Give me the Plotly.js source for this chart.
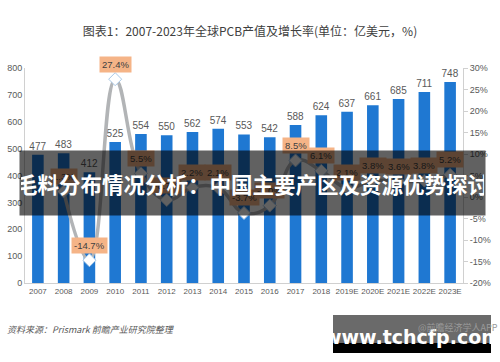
<!DOCTYPE html>
<html>
<head>
<meta charset="utf-8">
<script src="https://cdn.plot.ly/plotly-3.0.1.min.js"></script>
<style>html,body{margin:0;padding:0;background:#fff;}#chart{width:500px;height:362px;}</style>
</head>
<body>
<div id="chart"></div>
<script>
var years = ['2007','2008','2009','2010','2011','2012','2013','2014','2015','2016','2017','2018','2019E','2020E','2021E','2022E','2023E'];
var output = [477,483,412,525,554,550,562,574,553,542,588,624,637,661,685,711,748];
var growth = [null,1.3,-14.7,27.4,5.5,-0.7,2.2,2.1,-3.7,-2.0,8.5,6.1,2.1,3.8,3.6,3.8,5.2];
var growthLabels = ['', '1.3%','-14.7%','27.4%','5.5%','-0.7%','2.2%','2.1%','-3.7%','-2.0%','8.5%','6.1%','2.1%','3.8%','3.6%','3.8%','5.2%'];
var leftTicks = [0,100,200,300,400,500,600,700,800];
var rightTicks = [-20,-15,-10,-5,0,5,10,15,20,25,30];
var rightTickText = ['-20%','-15%','-10%','-5%','0%','5%','10%','15%','20%','25%','30%'];

var titleText = '图表1：2007-2023年全球PCB产值及增长率(单位：亿美元，%)';
var bannerText = '毛料分布情况分析：中国主要产区及资源优势探讨';
var sourceText = '资料来源：Prismark 前瞻产业研究院整理';
var siteText = 'www.tchcfp.com';
var appText = '@前瞻经济学人APP';

var W = 500, H = 362, L = 25, R = 37, T = 68, B = 79;
var pw = W - L - R, ph = H - T - B;
function px(x){ return (x - L) / pw; }
function py(y){ return (H - B - y) / ph; }

var CJK = '"Noto Sans CJK SC", "Liberation Sans", sans-serif';
var NUM = '"Liberation Sans", "Noto Sans CJK SC", sans-serif';

var idx = years.map(function(_, i){ return i; });

var bars = {
  type: 'bar', x: idx, y: output, yaxis: 'y', xaxis: 'x',
  marker: {color: '#1f78d2'},
  text: output.map(String), textposition: 'outside', constraintext: 'none',
  textfont: {family: NUM, size: 10, color: '#595959'},
  cliponaxis: false, hoverinfo: 'none'
};
var line = {
  type: 'scatter', mode: 'lines+markers', x: idx, y: growth, yaxis: 'y2', xaxis: 'x',
  line: {color: '#b2b4b6', width: 3.5, shape: 'spline', smoothing: 1.2},
  marker: {symbol: 'diamond', size: 10, color: '#ffffff', line: {color: '#a9c8e6', width: 1}},
  connectgaps: false, cliponaxis: false, hoverinfo: 'none'
};

var annotations = [];
for (var i = 0; i < years.length; i++) {
  if (growth[i] === null) continue;
  annotations.push({
    x: idx[i], y: growth[i], xref: 'x', yref: 'y2', yshift: 15,
    text: growthLabels[i], showarrow: false,
    bgcolor: '#f5b487', borderpad: 2,
    font: {family: NUM, size: 9.5, color: '#404040'}
  });
}
annotations.push({
  xref: 'paper', yref: 'paper', x: px(19), y: py(150), xanchor: 'left', yanchor: 'top',
  width: 463, height: 62, text: '<b>' + bannerText + '</b>', showarrow: false,
  bgcolor: 'rgba(0,0,0,0.62)', align: 'center', valign: 'middle',
  font: {family: CJK, size: 21.5, color: '#ffffff'}
});
annotations.push({
  xref: 'paper', yref: 'paper', x: px(5), y: py(329), xanchor: 'left', yanchor: 'middle',
  text: sourceText, showarrow: false,
  font: {family: CJK, size: 9, color: '#595959', style: 'italic'}
});
annotations.push({
  xref: 'paper', yref: 'paper', x: px(412), y: py(337), xanchor: 'center', yanchor: 'middle',
  text: '<b>' + siteText + '</b>', showarrow: false,
  font: {family: '"DejaVu Sans", sans-serif', size: 19, color: '#ffffff'}
});
annotations.push({
  xref: 'paper', yref: 'paper', x: px(500), y: py(327), xanchor: 'right', yanchor: 'middle',
  text: appText, showarrow: false,
  font: {family: CJK, size: 9, color: '#9a9a9a'}
});

var shapes = [
  {type: 'rect', xref: 'paper', yref: 'paper', layer: 'above', x0: px(333), x1: px(491), y0: py(343), y1: py(315),
   fillcolor: '#6a6a6a', line: {width: 0}},
  {type: 'rect', xref: 'paper', yref: 'paper', layer: 'above', x0: px(333), x1: px(491), y0: py(353), y1: py(343),
   fillcolor: '#000000', line: {width: 0}}
];

var layout = {
  width: W, height: H,
  margin: {l: L, r: R, t: T, b: B, pad: 0},
  paper_bgcolor: '#ffffff', plot_bgcolor: '#ffffff',
  showlegend: false, bargap: 0.55,
  font: {family: NUM, color: '#595959'},
  title: {text: titleText, x: 0.5, xanchor: 'center', y: 1 - 32 / H, yanchor: 'middle',
          font: {family: CJK, size: 12, color: '#404040'}},
  xaxis: {type: 'linear', range: [-0.5, years.length - 0.5], tickvals: idx, ticktext: years,
          tickangle: 0, automargin: false,
          showgrid: false, zeroline: false, showline: true, linecolor: '#d0d0d0', linewidth: 1,
          ticks: '', tickfont: {family: NUM, size: 8, color: '#595959'}},
  yaxis: {range: [0, 800], tickvals: leftTicks, showgrid: false, zeroline: false,
          showline: true, linecolor: '#d0d0d0', ticks: '', tickfont: {family: NUM, size: 9, color: '#595959'}},
  yaxis2: {range: [-20, 30], overlaying: 'y', side: 'right', tickvals: rightTicks, ticktext: rightTickText,
           showgrid: false, zeroline: false, showline: true, linecolor: '#d0d0d0',
           ticks: 'outside', ticklen: 4, tickcolor: '#d0d0d0',
           tickfont: {family: NUM, size: 9, color: '#595959'}},
  annotations: annotations,
  shapes: shapes
};

Plotly.newPlot('chart', [bars, line], layout, {staticPlot: true, displayModeBar: false});
</script>
</body>
</html>
